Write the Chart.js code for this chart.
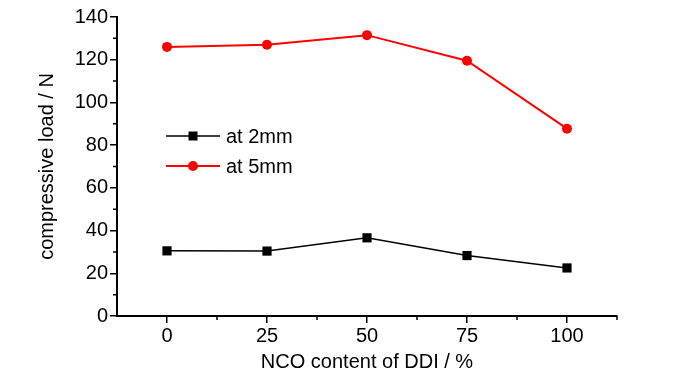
<!DOCTYPE html>
<html>
<head>
<meta charset="utf-8">
<script src="https://cdn.jsdelivr.net/npm/chart.js@4"></script>
<style>
    html, body { margin: 0; padding: 0; background: #fff; }
    #chart { display: block; }
</style>
</head>
<body>
<canvas id="chart" width="700" height="374"></canvas>
<script>
const ddiContent = [0, 25, 50, 75, 100];
const loadAt2mm = [30.5, 30.4, 36.6, 28.3, 22.5];
const loadAt5mm = [126, 127, 131.5, 119.5, 87.7];
const xTickValues = [0, 25, 50, 75, 100];
const xMinorTicks = [12.5, 37.5, 62.5, 87.5, 112.5];
const yTickValues = [0, 20, 40, 60, 80, 100, 120, 140];
const yMinorTicks = [10, 30, 50, 70, 90, 110, 130];
const seriesNames = ['at 2mm', 'at 5mm'];

const FONT = 'Arial, "Liberation Sans", sans-serif';

function toPoints(xs, ys) {
    return xs.map((x, i) => ({ x: x, y: ys[i] }));
}

// minor ticks + in-plot legend
const extrasPlugin = {
    id: 'extras',
    afterDraw(chart) {
        const ctx = chart.ctx;
        const xs = chart.scales.x;
        const ys = chart.scales.y;
        const area = chart.chartArea;
        ctx.save();
        ctx.strokeStyle = '#000';
        ctx.lineWidth = 1.5;
        ctx.beginPath();
        xMinorTicks.forEach(v => {
            const px = xs.getPixelForValue(v);
            ctx.moveTo(px, area.bottom);
            ctx.lineTo(px, area.bottom + 4);
        });
        yMinorTicks.forEach(v => {
            const py = ys.getPixelForValue(v);
            ctx.moveTo(area.left, py);
            ctx.lineTo(area.left - 4, py);
        });
        ctx.stroke();

        // legend
        const rows = [
            { name: seriesNames[0], color: '#000', width: 1.5, shape: 'square', y: 136 },
            { name: seriesNames[1], color: '#ff0000', width: 2, shape: 'circle', y: 166 }
        ];
        ctx.font = '20px ' + FONT;
        ctx.textBaseline = 'middle';
        rows.forEach(r => {
            ctx.strokeStyle = r.color;
            ctx.fillStyle = r.color;
            ctx.lineWidth = r.width;
            ctx.beginPath();
            ctx.moveTo(166, r.y);
            ctx.lineTo(220, r.y);
            ctx.stroke();
            if (r.shape === 'square') {
                ctx.fillRect(188.5, r.y - 4.5, 9, 9);
            } else {
                ctx.beginPath();
                ctx.arc(193, r.y, 5, 0, Math.PI * 2);
                ctx.fill();
            }
            ctx.fillStyle = '#000';
            ctx.fillText(r.name, 226, r.y + 1);
        });
        ctx.restore();
    }
};

const ctx = document.getElementById('chart').getContext('2d');
new Chart(ctx, {
    type: 'line',
    data: {
        datasets: [
            {
                label: seriesNames[0],
                data: toPoints(ddiContent, loadAt2mm),
                borderColor: '#000',
                backgroundColor: '#000',
                borderWidth: 1.5,
                pointStyle: 'rect',
                pointRadius: 6.5,
                pointBorderWidth: 0,
                tension: 0
            },
            {
                label: seriesNames[1],
                data: toPoints(ddiContent, loadAt5mm),
                borderColor: '#ff0000',
                backgroundColor: '#ff0000',
                borderWidth: 2,
                pointStyle: 'circle',
                pointRadius: 5,
                pointBorderWidth: 0,
                tension: 0
            }
        ]
    },
    options: {
        responsive: false,
        animation: false,
        devicePixelRatio: 1,
        layout: { padding: { top: 17, right: 83, bottom: 0, left: 0 } },
        plugins: {
            legend: { display: false },
            tooltip: { enabled: false }
        },
        scales: {
            x: {
                type: 'linear',
                min: -12.5,
                max: 112.5,
                afterBuildTicks: scale => { scale.ticks = xTickValues.map(v => ({ value: v })); },
                afterFit: scale => { scale.height = 58; },
                grid: { display: true, drawOnChartArea: false, drawTicks: true, tickLength: 7, color: '#000', lineWidth: 1.5 },
                border: { display: true, color: '#000', width: 2 },
                ticks: {
                    color: '#000',
                    font: { family: FONT, size: 20 },
                    padding: 1,
                    maxRotation: 0,
                    autoSkip: false,
                    callback: v => String(v)
                },
                title: {
                    display: true,
                    text: 'NCO content of DDI / %',
                    color: '#000',
                    font: { family: FONT, size: 20 },
                    padding: { top: 0, bottom: 0 }
                }
            },
            y: {
                type: 'linear',
                min: 0,
                max: 140,
                afterBuildTicks: scale => { scale.ticks = yTickValues.map(v => ({ value: v })); },
                afterFit: scale => { scale.width = 117; },
                grid: { display: true, drawOnChartArea: false, drawTicks: true, tickLength: 7, color: '#000', lineWidth: 1.5 },
                border: { display: true, color: '#000', width: 2 },
                ticks: {
                    color: '#000',
                    font: { family: FONT, size: 20 },
                    padding: 2,
                    autoSkip: false,
                    callback: v => String(v)
                },
                title: {
                    display: true,
                    text: 'compressive load / N',
                    color: '#000',
                    font: { family: FONT, size: 20 },
                    padding: { top: 35, bottom: 0 }
                }
            }
        }
    },
    plugins: [extrasPlugin]
});
</script>
</body>
</html>
